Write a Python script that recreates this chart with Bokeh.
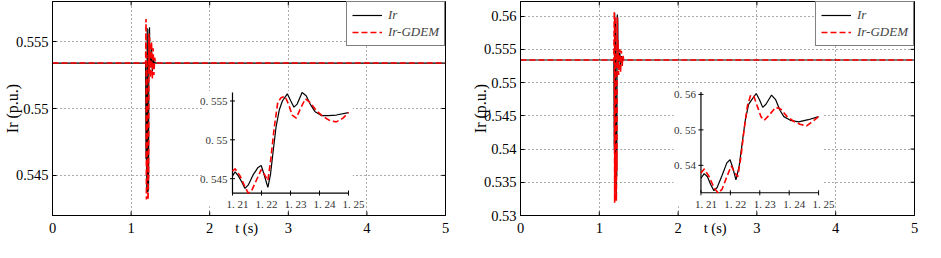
import math
from bokeh.plotting import figure
from bokeh.layouts import row
from bokeh.models import Range1d, FixedTicker, NumeralTickFormatter, BoxAnnotation
from bokeh.core.properties import value
from bokeh.embed import file_html
from bokeh.resources import INLINE

# ---------------- data ----------------
x_ticks = [0, 1, 2, 3, 4, 5]
L_yticks = [0.545, 0.55, 0.555]
R_yticks = [0.53, 0.535, 0.54, 0.545, 0.55, 0.555, 0.56]
x_title = "t (s)"
y_title = "Ir (p.u.)"

steady_L = 0.5534
steady_R = 0.5534

spike_t = [1.185, 1.19, 1.195, 1.20, 1.205]
post_t = [1.26, 1.27, 1.28, 1.29, 1.30, 1.31]

L_black_spike = [0.5534, 0.5462, 0.5510, 0.5437, 0.5560]
L_red_spike = [0.5534, 0.5567, 0.5432, 0.5540, 0.5455]
L_black_post = [0.5545, 0.5528, 0.5540, 0.5532, 0.5535, 0.5534]
L_red_post = [0.5550, 0.5522, 0.5545, 0.5525, 0.5538, 0.5534]

R_black_spike = [0.5534, 0.5400, 0.5605, 0.5352, 0.5590]
R_red_spike = [0.5534, 0.5607, 0.5319, 0.5600, 0.5360]
R_black_post = [0.5545, 0.5525, 0.5540, 0.5530, 0.5536, 0.5534]
R_red_post = [0.5550, 0.5515, 0.5548, 0.5525, 0.5540, 0.5534]

# zoomed window 1.21 .. 1.25 s
Lb_t = [1.21, 1.2109, 1.2120, 1.2132, 1.2143, 1.2154, 1.2171, 1.2188, 1.2199, 1.2207,
        1.2222, 1.2231, 1.2241, 1.2250, 1.2261, 1.2272, 1.2289, 1.2301, 1.2312, 1.2323,
        1.2340, 1.2354, 1.2368, 1.2385, 1.2408, 1.2430, 1.2458, 1.25]
Lb_y = [0.54536, 0.54588, 0.54536, 0.54456, 0.54375, 0.54416, 0.54548, 0.54645, 0.54669,
        0.54576, 0.54388, 0.54556, 0.54878, 0.55159, 0.5538, 0.5550, 0.55592, 0.5550,
        0.5542, 0.5546, 0.55608, 0.55568, 0.5546, 0.5536, 0.55311, 0.55311, 0.55319, 0.55351]
Lr_t = [1.21, 1.2109, 1.2126, 1.2143, 1.2154, 1.2165, 1.2182, 1.2199, 1.2210, 1.2222,
        1.2231, 1.2244, 1.2256, 1.2267, 1.2281, 1.2293, 1.2306, 1.2320, 1.2334, 1.2351,
        1.2368, 1.2391, 1.2413, 1.2436, 1.2458, 1.2481, 1.25]
Lr_y = [0.54596, 0.54628, 0.54536, 0.54395, 0.54315, 0.54335, 0.54476, 0.54616, 0.54556,
        0.54476, 0.54717, 0.55159, 0.5548, 0.5554, 0.5556, 0.5546, 0.55319, 0.55279,
        0.5540, 0.55528, 0.5548, 0.55367, 0.55299, 0.55247, 0.55231, 0.55279, 0.55351]

Rb_t = [1.21, 1.2111, 1.2122, 1.2133, 1.2144, 1.2155, 1.2172, 1.2188, 1.2199, 1.2208,
        1.2219, 1.2230, 1.2241, 1.2251, 1.2262, 1.2273, 1.2288, 1.2299, 1.2310, 1.2321,
        1.2340, 1.2354, 1.2369, 1.2382, 1.2404, 1.2432, 1.2465, 1.25]
Rb_y = [0.53635, 0.53765, 0.53678, 0.53461, 0.53287, 0.53374, 0.53722, 0.54070, 0.54157,
        0.53939, 0.53591, 0.53983, 0.54678, 0.55287, 0.55722, 0.55852, 0.56026, 0.55852,
        0.55635, 0.55722, 0.55983, 0.55852, 0.55548, 0.55374, 0.55270, 0.55226, 0.55287, 0.55374]
Rr_t = [1.21, 1.2111, 1.2128, 1.2144, 1.2159, 1.2172, 1.2188, 1.2203, 1.2214, 1.2225,
        1.2236, 1.2247, 1.2258, 1.2269, 1.2280, 1.2293, 1.2304, 1.2315, 1.2332, 1.2354,
        1.2371, 1.2393, 1.2415, 1.2437, 1.2459, 1.2481, 1.25]
Rr_y = [0.53783, 0.53896, 0.53678, 0.53374, 0.53217, 0.53330, 0.53678, 0.53983, 0.53809,
        0.53678, 0.54243, 0.55026, 0.55678, 0.55983, 0.55939, 0.55635, 0.55374, 0.55270,
        0.55417, 0.55635, 0.55591, 0.55374, 0.55243, 0.55157, 0.55113, 0.55243, 0.55374]

inset_xticks = [1.21, 1.22, 1.23, 1.24, 1.25]
inset_xlabels = ["1. 21", "1. 22", "1. 23", "1. 24", "1. 25"]
L_inset_yticks = [0.545, 0.55, 0.555]
L_inset_ylabels = ["0. 545", "0. 55", "0. 555"]
R_inset_yticks = [0.54, 0.55, 0.56]
R_inset_ylabels = ["0. 54", "0. 55", "0. 56"]

# layout constants
SERIF = "Liberation Serif"
RED = "#ff0000"
XTITLE_POS = 2.47   # where the x title sits along the axis (data units)
FIG_H = 238


def make_panel(width, bl, br, yr, yticks, bt, by, rt, ry, spike_b, spike_r, post_b, post_r,
               steady, ins_src_y, ins_tgt_x, ins_tgt_y, bg, ins_yt, ins_yl):
    p = figure(width=width, height=FIG_H, x_range=Range1d(0, 5), y_range=Range1d(*yr),
               output_backend="svg", toolbar_location=None,
               min_border_left=bl, min_border_right=br, min_border_top=1, min_border_bottom=18)
    p.outline_line_color = "black"
    p.outline_line_width = 1
    p.background_fill_color = "white"
    p.border_fill_color = "white"

    # x axis: numeric tick labels plus the axis title in the same row (as in the original)
    p.xaxis.ticker = FixedTicker(ticks=x_ticks + [XTITLE_POS])
    p.xaxis.formatter = NumeralTickFormatter(format="0")
    p.xaxis.major_label_overrides = {XTITLE_POS: x_title}
    p.xaxis.major_tick_line_color = None
    p.yaxis.ticker = FixedTicker(ticks=yticks)
    p.yaxis.formatter = NumeralTickFormatter(format="0.[000]")
    p.yaxis.major_tick_line_color = "black"
    for ax in (p.xaxis, p.yaxis):
        ax.major_label_text_font = SERIF
        ax.major_label_text_font_size = "14.5px"
        ax.major_label_text_color = "black"
        ax.major_tick_in = 4
        ax.major_tick_out = 0
        ax.minor_tick_line_color = None
        ax.axis_line_color = "black"
        ax.axis_label_text_font = SERIF
        ax.axis_label_text_font_size = "16px"
        ax.axis_label_text_font_style = "normal"
        ax.axis_label_text_color = "black"
    p.xaxis.major_label_standoff = 4
    p.yaxis.major_label_standoff = 4
    p.yaxis.axis_label = y_title
    p.yaxis.axis_label_standoff = -8

    p.xgrid.ticker = FixedTicker(ticks=x_ticks)
    p.ygrid.ticker = FixedTicker(ticks=yticks)
    for g in (p.xgrid, p.ygrid):
        g.grid_line_color = "#555555"
        g.grid_line_dash = "1 3"
        g.grid_line_width = 1

    # inward tick marks on bottom, top and right frame edges (half clipped by the frame)
    p.scatter(x=x_ticks, y=[yr[0]] * len(x_ticks), marker="dash", angle=math.pi / 2,
              size=8, line_color="black", line_width=1)
    p.scatter(x=x_ticks, y=[yr[1]] * len(x_ticks), marker="dash", angle=math.pi / 2,
              size=8, line_color="black", line_width=1)
    p.scatter(x=[5] * len(yticks), y=yticks, marker="dash", size=8,
              line_color="black", line_width=1)

    # white inset background
    p.add_layout(BoxAnnotation(left=bg[0], right=bg[1], bottom=bg[2], top=bg[3],
                               fill_color="white", fill_alpha=1, line_color=None,
                               level="underlay"))

    tb = [0] + spike_t + bt + post_t + [5]
    yb = [steady] + spike_b + by + post_b + [steady]
    tr = [0] + spike_t + rt + post_t + [5]
    yr_ = [steady] + spike_r + ry + post_r + [steady]
    p.line(tb, yb, line_color="black", line_width=1.2, legend_label="Ir")
    p.line(tr, yr_, line_color=RED, line_width=1.6, line_dash="6 3", legend_label="Ir-GDEM")

    lg = p.legend[0]
    lg.location = "top_right"
    lg.margin = 0
    lg.padding = 5
    lg.spacing = 1
    lg.glyph_width = 30
    lg.glyph_height = 14
    lg.label_height = 14
    lg.label_standoff = 6
    lg.label_text_font = SERIF
    lg.label_text_font_style = "italic"
    lg.label_text_font_size = "13px"
    lg.border_line_color = "black"
    lg.border_line_width = 1
    lg.background_fill_alpha = 1

    # inset
    sub = p.subplot(x_source=Range1d(1.21, 1.25), y_source=Range1d(*ins_src_y),
                    x_target=Range1d(*ins_tgt_x), y_target=Range1d(*ins_tgt_y))
    y0, y1 = ins_src_y
    sub.segment(x0=[1.21, 1.21], y0=[y0, y0], x1=[1.21, 1.25], y1=[y1, y0],
                line_color="black", line_width=1.2)
    sub.scatter(x=inset_xticks, y=[y0] * len(inset_xticks), marker="dash", angle=math.pi / 2,
                size=5, line_color="black")
    sub.scatter(x=[1.21] * len(ins_yt), y=ins_yt, marker="dash", size=5, line_color="black")
    sub.line(bt, by, line_color="black", line_width=1.2)
    sub.line(rt, ry, line_color=RED, line_width=1.6, line_dash="6 3")
    sub.text(x=inset_xticks, y=[y0] * len(inset_xticks), text=inset_xlabels,
             text_font=value(SERIF), text_font_size="11px", text_color="#333333",
             text_align="center", text_baseline="top", x_offset=5, y_offset=5)
    sub.text(x=[1.21] * len(ins_yt), y=ins_yt, text=ins_yl,
             text_font=value(SERIF), text_font_size="11px", text_color="#333333",
             text_align="right", text_baseline="middle", x_offset=-5)
    return p


p1 = make_panel(460, 44, 15, (0.542, 0.558), L_yticks, Lb_t, Lb_y, Lr_t, Lr_y,
                L_black_spike, L_red_spike, L_black_post, L_red_post, steady_L,
                (0.54315, 0.55608), (2.29, 3.766), (0.54368, 0.55119),
                (1.93, 3.82, 0.5427, 0.5513), L_inset_yticks, L_inset_ylabels)
p2 = make_panel(461, 60, 7, (0.53, 0.5622), R_yticks, Rb_t, Rb_y, Rr_t, Rr_y,
                R_black_spike, R_red_spike, R_black_post, R_red_post, steady_R,
                (0.53226, 0.5607), (2.29, 3.783), (0.53342, 0.54859),
                (1.943, 3.837, 0.5314, 0.5488), R_inset_yticks, R_inset_ylabels)

layout = row(p1, p2)
open("out.html", "w").write(file_html(layout, INLINE))
